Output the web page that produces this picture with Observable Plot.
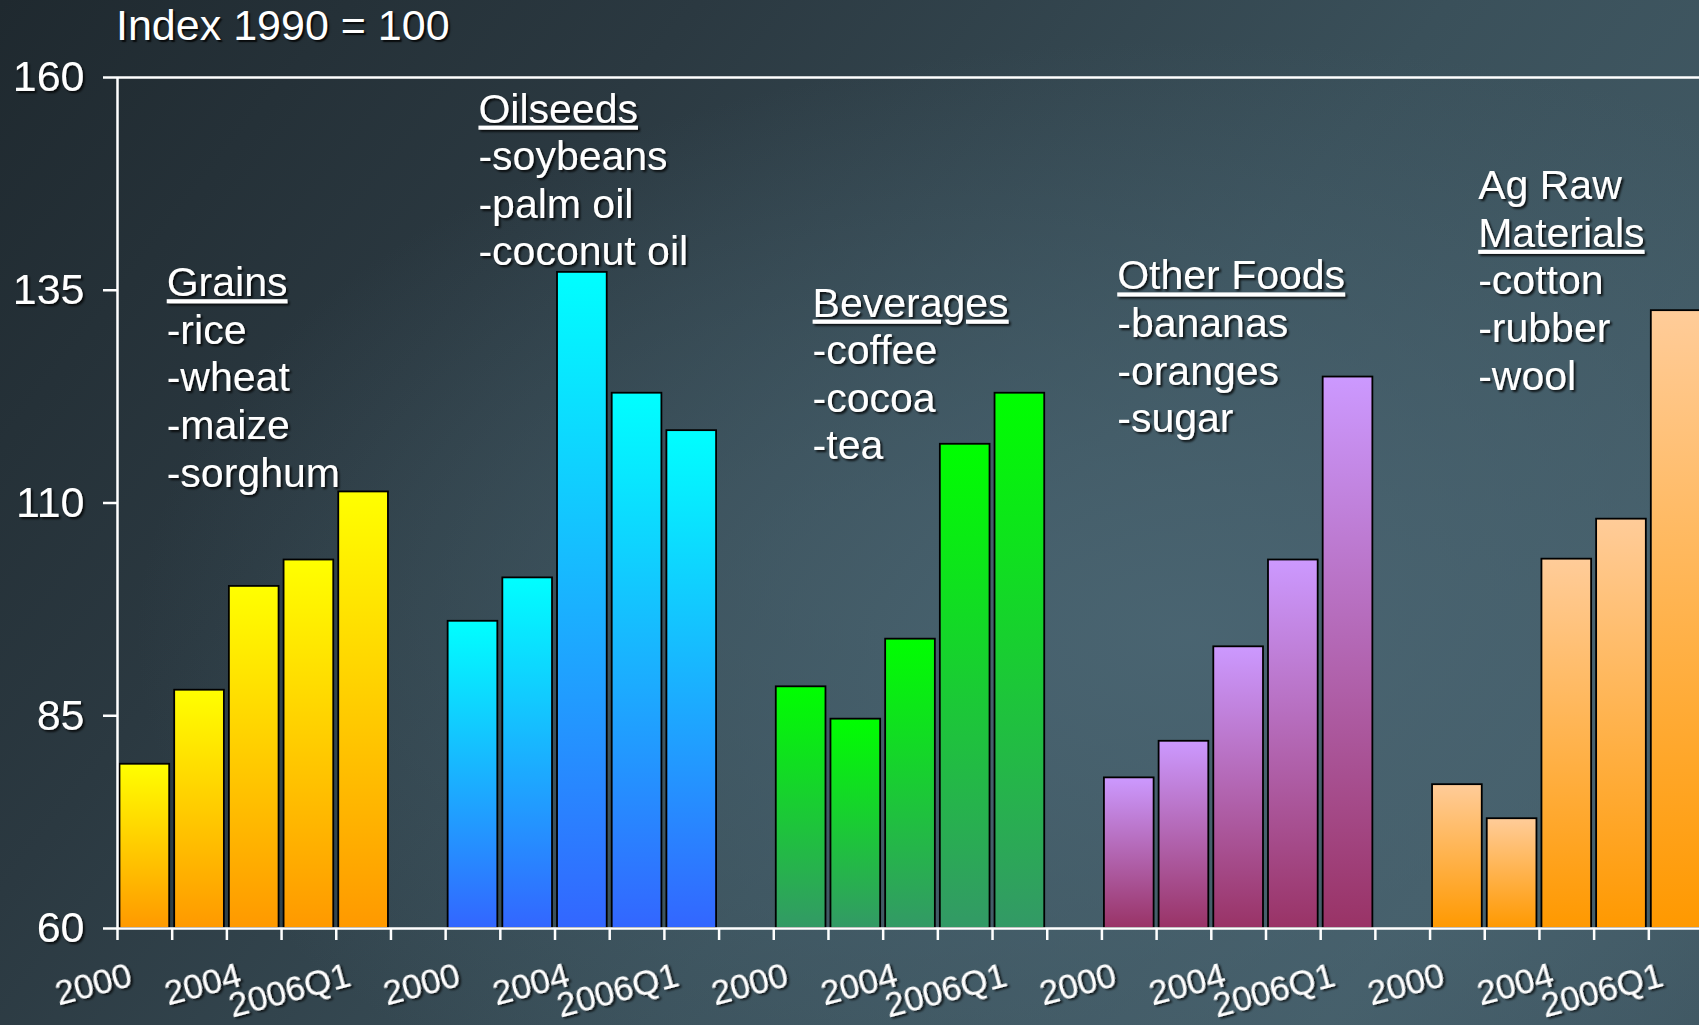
<!DOCTYPE html>
<html>
<head>
<meta charset="utf-8">
<title>Agricultural commodity price indices</title>
<script src="https://cdn.jsdelivr.net/npm/d3@7"></script>
<script src="https://cdn.jsdelivr.net/npm/@observablehq/plot@0.6"></script>
<style>
  html, body { margin: 0; padding: 0; width: 1699px; height: 1025px; overflow: hidden; }
  body {
    font-family: "Liberation Sans", Arial, Helvetica, sans-serif;
    background:
      radial-gradient(ellipse 62% 58% at 70% 62%, rgba(74,101,114,0.95) 0%, rgba(74,101,114,0) 100%),
      linear-gradient(128deg, #1f292f 0%, #2b3941 28%, #3a505a 58%, #445d68 85%, #3f5661 100%);
  }
  #title {
    height: 50px; line-height: 50px; padding-left: 116px;
    color: #fff; font-size: 43px; white-space: nowrap;
    text-shadow: 2px 2px 1.5px rgba(0,0,0,0.8);
  }
  #chart svg { display: block; }
  #chart svg text { filter: url(#text-shadow); }
  #chart text[aria-label="heading"],
  #chart g[aria-label="heading"] text { text-decoration: underline; }
</style>
</head>
<body>
<div id="title">Index 1990 = 100</div>
<div id="chart"></div>
<script>
// Commodity groups and the periods shown for each group
const groups = ["Grains", "Oilseeds", "Beverages", "Other Foods", "Ag Raw Materials"];
const tickLabels = ["2000", "", "2004", "", "2006Q1"];

// Price index values (1990 = 100), one per period
const grains         = [79.3, 88.0, 100.2, 103.3, 111.3];
const oilseeds       = [96.1, 101.2, 137.1, 122.9, 118.5];
const beverages      = [88.4, 84.6, 94.0, 116.9, 122.9];
const otherFoods     = [77.7, 82.0, 93.1, 103.3, 124.8];
const agRawMaterials = [76.9, 72.9, 103.4, 108.1, 132.6];

const yDomain = [60, 160];
const yTicks = [60, 85, 110, 135, 160];

// Group notes: optional first line, underlined heading, member commodities
const headingPrefix = ["", "", "", "", "Ag Raw"];
const headings = ["Grains", "Oilseeds", "Beverages", "Other Foods", "Materials"];
const members = [
  ["-rice", "-wheat", "-maize", "-sorghum"],
  ["-soybeans", "-palm oil", "-coconut oil"],
  ["-coffee", "-cocoa", "-tea"],
  ["-bananas", "-oranges", "-sugar"],
  ["-cotton", "-rubber", "-wool"]
];
// Where each note starts: [slot position, index value of first baseline]
const notePlacement = [[0.90, 134.3], [6.60, 154.7], [12.71, 131.9], [18.28, 135.1], [24.88, 145.7]];

// Bar fill gradients, top colour to bottom colour
const gradTop    = ["#ffff00", "#00ffff", "#00ff00", "#cc99ff", "#ffcc99"];
const gradBottom = ["#ff9900", "#3366ff", "#339966", "#993366", "#ff9900"];

// ---- layout ----
const width = 1699, height = 975;
const margin = {top: 27, right: 0, bottom: 97, left: 117};
const slotWidth = 54.69;
const lineGap = 47.6;
const pxPerUnit = (height - margin.top - margin.bottom) / (yDomain[1] - yDomain[0]);

const series = [grains, oilseeds, beverages, otherFoods, agRawMaterials];
const slotsPerGroup = tickLabels.length + 1;
const slotCount = groups.length * slotsPerGroup - 1;

const bars = series.flatMap((vals, g) =>
  vals.map((v, i) => ({group: groups[g], g, slot: g * slotsPerGroup + i, value: v, label: tickLabels[i]}))
);

const noteLines = [];
groups.forEach((name, g) => {
  const [sx, sy] = notePlacement[g];
  const lines = [];
  if (headingPrefix[g]) lines.push({text: headingPrefix[g], underline: false});
  lines.push({text: headings[g], underline: true});
  members[g].forEach(m => lines.push({text: m, underline: false}));
  lines.forEach((l, k) => noteLines.push({...l, group: name, x: sx, y: sy - k * lineGap / pxPerUnit}));
});

// gradient and shadow definitions
const defsMark = () => {
  const defs = d3.create("svg:defs");
  groups.forEach((_, g) => {
    const lg = defs.append("linearGradient")
      .attr("id", `bar-grad-${g}`)
      .attr("x1", 0).attr("y1", 0).attr("x2", 0).attr("y2", 1);
    lg.append("stop").attr("offset", "0%").attr("stop-color", gradTop[g]);
    lg.append("stop").attr("offset", "100%").attr("stop-color", gradBottom[g]);
  });
  const f = defs.append("filter").attr("id", "text-shadow")
    .attr("x", "-10%").attr("y", "-20%").attr("width", "130%").attr("height", "150%");
  f.append("feDropShadow").attr("dx", 2).attr("dy", 2).attr("stdDeviation", 0.8)
    .attr("flood-color", "#000").attr("flood-opacity", 0.8);
  return defs.node();
};

const font = "'Liberation Sans', Arial, Helvetica, sans-serif";

const chart = Plot.plot({
  width, height,
  marginTop: margin.top, marginRight: margin.right, marginBottom: margin.bottom, marginLeft: margin.left,
  x: {domain: [0, slotCount], range: [margin.left, margin.left + slotCount * slotWidth], axis: null},
  y: {domain: yDomain, axis: null},
  color: {type: "identity"},
  style: {background: "transparent", color: "white", fontFamily: font, fontSize: "40px", overflow: "visible", maxWidth: "none"},
  marks: [
    defsMark,
    Plot.rect(bars, {
      x1: "slot", x2: d => d.slot + 1,
      y1: () => yDomain[0], y2: "value",
      fill: d => `url(#bar-grad-${d.g})`,
      stroke: "#000", strokeWidth: 1.8,
      insetLeft: 2.5, insetRight: 2.5
    }),
    Plot.ruleY(yDomain, {stroke: "white", strokeWidth: 2.5}),
    Plot.ruleX([0], {stroke: "white", strokeWidth: 2.5}),
    Plot.axisY(yTicks, {
      anchor: "left", tickSize: 14, tickPadding: 19, fontSize: 43,
      strokeWidth: 2.5, stroke: "white", fill: "white", label: null, tickFormat: d => `${d}`
    }),
    Plot.axisX(d3.range(0, slotCount + 1), {
      anchor: "bottom", tickSize: 12, strokeWidth: 2.5, stroke: "white",
      tickFormat: () => "", label: null
    }),
    Plot.text(bars.filter(d => d.label), {
      x: d => d.slot + 0.5, frameAnchor: "bottom", text: "label",
      textAnchor: "end", lineAnchor: "bottom", rotate: -15, dx: -11, dy: 57,
      fontSize: 35, fill: "white"
    }),
    Plot.text(noteLines.filter(d => !d.underline), {
      x: "x", y: "y", text: "text", textAnchor: "start", lineAnchor: "bottom",
      fontSize: 41, fill: "white"
    }),
    Plot.text(noteLines.filter(d => d.underline), {
      x: "x", y: "y", text: "text", textAnchor: "start", lineAnchor: "bottom",
      fontSize: 41, fill: "white", ariaLabel: () => "heading"
    })
  ]
});

document.getElementById("chart").appendChild(chart);
</script>
</body>
</html>
